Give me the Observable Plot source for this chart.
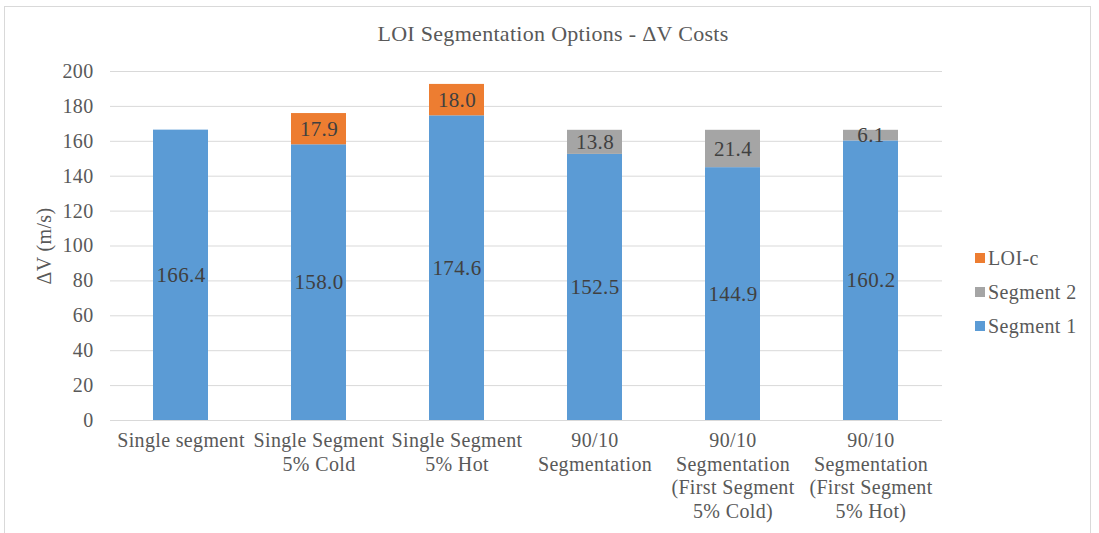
<!DOCTYPE html>
<html>
<head>
<meta charset="utf-8">
<script src="https://cdn.jsdelivr.net/npm/d3@7"></script>
<script src="https://cdn.jsdelivr.net/npm/@observablehq/plot@0.6"></script>
<style>
  body { margin: 0; background: #fff; font-family: "Liberation Serif", "Times New Roman", serif; }
  #wrap { position: relative; width: 1099px; height: 533px; overflow: hidden; }
  #frame { position: absolute; left: 4px; top: 6px; width: 1087px; height: 560px; border: 1.5px solid #d9d9d9; box-sizing: border-box; }
  #chart { position: absolute; left: 0; top: 0; }
  #chart svg, #chart svg text { font-family: "Liberation Serif", "Times New Roman", serif !important; letter-spacing: 0.35px; }
  #title { position: absolute; left: 0; width: 1106px; top: 21px; text-align: center; font-size: 22px; letter-spacing: 0.3px; color: #595959; }
  #legend { position: absolute; left: 975px; top: 241px; font-size: 20px; letter-spacing: 0.4px; color: #595959; }
  .li { display: flex; align-items: center; height: 34px; line-height: 22px; }
  .sw { width: 10px; height: 10px; margin-right: 3px; }
</style>
</head>
<body>
<div id="wrap">
  <div id="frame"></div>
  <div id="chart"></div>
  <div id="title">LOI Segmentation Options - ΔV Costs</div>
  <div id="legend"></div>
</div>
<script>
const categories = [
  "Single segment",
  "Single Segment\n5% Cold",
  "Single Segment\n5% Hot",
  "90/10\nSegmentation",
  "90/10\nSegmentation\n(First Segment\n5% Cold)",
  "90/10\nSegmentation\n(First Segment\n5% Hot)"
];
const seriesNames = ["Segment 1", "Segment 2", "LOI-c"];
const seriesColors = ["#5b9bd5", "#a5a5a5", "#ed7d31"];
const segment1 = [166.4, 158.0, 174.6, 152.5, 144.9, 160.2];
const segment2 = [0, 0, 0, 13.8, 21.4, 6.1];
const loic = [0, 17.9, 18.0, 0, 0, 0];
const yTicks = [0, 20, 40, 60, 80, 100, 120, 140, 160, 180, 200];

const seriesValues = [segment1, segment2, loic];
const data = [];
seriesNames.forEach((s, si) => {
  categories.forEach((c, ci) => {
    const v = seriesValues[si][ci];
    if (v > 0) data.push({category: c, series: s, value: v});
  });
});

const serif = "'Liberation Serif', 'Times New Roman', serif";
const chart = Plot.plot({
  width: 1099,
  height: 533,
  marginLeft: 110,
  marginRight: 157,
  marginTop: 71,
  marginBottom: 113,
  style: {fontFamily: serif, fontSize: "20px", background: "transparent"},
  x: {domain: categories, paddingInner: 0.6, paddingOuter: 0.3},
  y: {domain: [0, 200]},
  color: {domain: seriesNames, range: seriesColors},
  marks: [
    Plot.gridY(yTicks, {stroke: "#d9d9d9", strokeOpacity: 1, strokeWidth: 1}),
    Plot.barY(data, Plot.stackY({x: "category", y: "value", z: "series", fill: "series", order: seriesNames})),
    Plot.text(data, Plot.stackY({x: "category", y: "value", z: "series", order: seriesNames,
      text: d => d.value.toFixed(1), fill: "#404040", fontSize: 21, fontFamily: serif})),
    Plot.axisY({ticks: yTicks, tickSize: 0, tickPadding: 17, fontSize: 20, fontFamily: serif, fill: "#595959",
      label: "ΔV (m/s)", labelAnchor: "center", labelArrow: "none", labelOffset: 74}),
    Plot.axisX({tickSize: 0, tickPadding: 10, fontSize: 20, fontFamily: serif, fill: "#595959", lineHeight: 1.18, label: null, tickFormat: d => d}),
    Plot.ruleY([0], {stroke: "#d9d9d9", strokeWidth: 1})
  ]
});
document.getElementById("chart").appendChild(chart);

const legend = document.getElementById("legend");
[...seriesNames].reverse().forEach((s) => {
  const i = seriesNames.indexOf(s);
  const row = document.createElement("div");
  row.className = "li";
  const sw = document.createElement("div");
  sw.className = "sw";
  sw.style.background = seriesColors[i];
  const t = document.createElement("span");
  t.textContent = s;
  row.appendChild(sw);
  row.appendChild(t);
  legend.appendChild(row);
});
</script>
</body>
</html>
